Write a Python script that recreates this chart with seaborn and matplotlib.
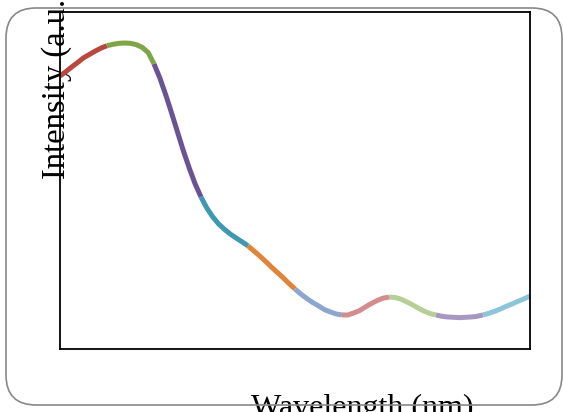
import matplotlib
matplotlib.use("Agg")
import matplotlib.pyplot as plt
from matplotlib.patches import FancyBboxPatch
import seaborn as sns
import pandas as pd

wavelength = [300, 306.25, 312.5, 318.75, 325, 331.25, 337.5, 343.75, 350, 356.25,
              362.5, 368.75, 375, 381.25, 387.5, 393.75, 400, 406.25, 412.5, 418.75,
              425, 431.25, 437.5, 443.75, 450, 456.25, 462.5, 468.75, 475, 481.25,
              487.5, 493.75, 500, 506.25, 512.5, 518.75, 525, 531.25, 537.5, 543.75,
              550, 556.25, 562.5, 568.75, 575, 581.25, 587.5, 593.75, 600, 606.25,
              612.5, 618.75, 625, 631.25, 637.5, 643.75, 650, 656.25, 662.5, 668.75,
              675, 681.25, 687.5, 693.75, 700, 706.25, 712.5, 718.75, 725, 731.25,
              737.5, 743.75, 750, 756.25, 762.5, 768.75, 775, 781.25, 787.5, 793.75, 800]
intensity = [0.810, 0.823, 0.837, 0.850, 0.864, 0.874, 0.884, 0.893, 0.900, 0.904,
             0.907, 0.908, 0.907, 0.903, 0.895, 0.880, 0.846, 0.804, 0.754, 0.700,
             0.644, 0.588, 0.537, 0.490, 0.451, 0.418, 0.392, 0.371, 0.355, 0.341,
             0.329, 0.318, 0.306, 0.291, 0.276, 0.260, 0.243, 0.227, 0.211, 0.194,
             0.178, 0.163, 0.150, 0.138, 0.128, 0.117, 0.110, 0.104, 0.101, 0.101,
             0.107, 0.114, 0.125, 0.135, 0.144, 0.151, 0.154, 0.153, 0.148, 0.140,
             0.131, 0.121, 0.112, 0.105, 0.101, 0.097, 0.095, 0.094, 0.093, 0.094,
             0.095, 0.097, 0.101, 0.106, 0.112, 0.119, 0.127, 0.134, 0.142, 0.149, 0.157]
segment_edges = [300, 350, 400, 450, 500, 550, 600, 650, 700, 750, 800]
segment_colors = ["#b8473f", "#7ea648", "#6a5394", "#3d98b0", "#e0843a",
                  "#8ca6d0", "#d48c8c", "#b5cf96", "#a698c3", "#8cc4da"]

rows = []
for i in range(len(segment_edges) - 1):
    lo, hi = segment_edges[i], segment_edges[i + 1]
    for w, v in zip(wavelength, intensity):
        if lo <= w <= hi:
            rows.append({"wavelength": w, "intensity": v, "segment": i})
df = pd.DataFrame(rows)

sns.set_theme(style="white")
plt.rcParams["font.family"] = ["Liberation Serif", "DejaVu Serif"]

fig = plt.figure(figsize=(5.63, 4.12), dpi=100)
ax = fig.add_axes([60 / 563, 63 / 412, 470 / 563, 337 / 412])

sns.lineplot(data=df, x="wavelength", y="intensity", hue="segment",
             palette=segment_colors, legend=False, estimator=None, sort=False,
             linewidth=3.6, ax=ax)
for line in ax.get_lines():
    line.set_solid_capstyle("butt")
    line.set_solid_joinstyle("round")

ax.set_xlim(300, 800)
ax.set_ylim(0, 1)
ax.set_xticks([])
ax.set_yticks([])
for s in ax.spines.values():
    s.set_visible(True)
    s.set_color("black")
    s.set_linewidth(1.3)

ax.set_xlabel("Wavelength (nm)", fontsize=23, color="black")
ax.xaxis.label.set_va("baseline")
ax.xaxis.set_label_coords(0.643, -0.199)
ax.set_ylabel("Intensity (a.u.)", fontsize=23.5, color="black")
ax.yaxis.label.set_va("baseline")
ax.yaxis.set_label_coords(0.0106, 0.787)

box = FancyBboxPatch((6, 412 - 405), 556, 397,
                     boxstyle="round,pad=0,rounding_size=30",
                     transform=None, facecolor="none", edgecolor="#888888",
                     linewidth=1.2, zorder=10)
fig.patches.append(box)

fig.savefig("out.png", dpi=100)
